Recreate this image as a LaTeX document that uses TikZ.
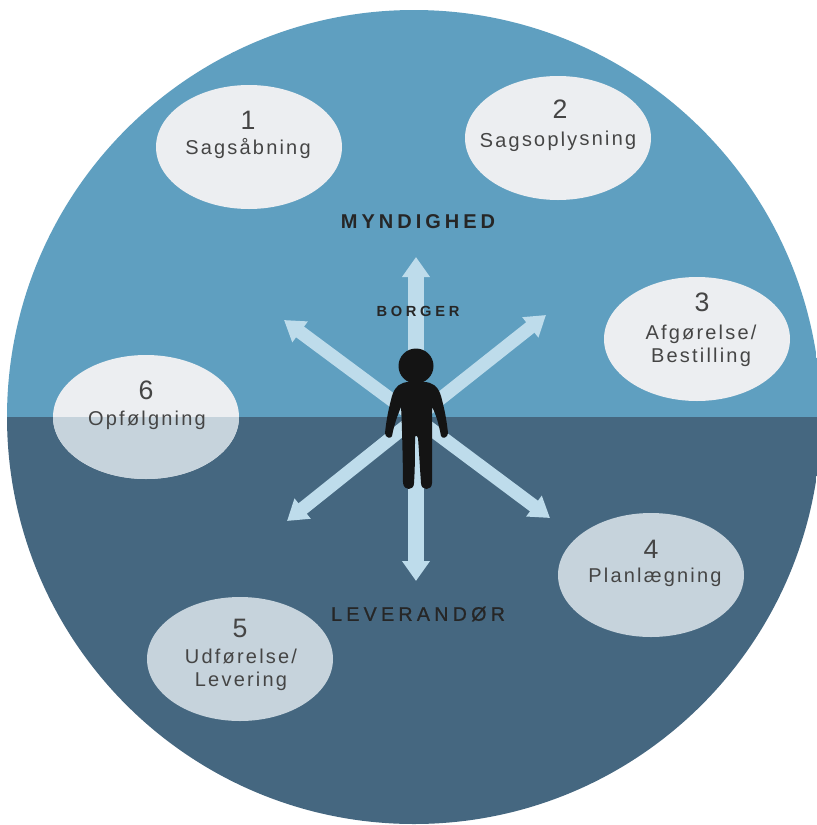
\documentclass[tikz,border=0pt]{standalone}
\usepackage{fontspec}
\setmainfont{Liberation Sans}
\newfontfamily\spaced[LetterSpace=11]{Liberation Sans}
\newfontfamily\spacedm[LetterSpace=20,BoldFont={Liberation Sans Bold}]{Liberation Sans}
\newfontfamily\spacedl[LetterSpace=22,FakeBold=0.8]{Liberation Sans}
\newfontfamily\spacedbo[LetterSpace=25,BoldFont={Liberation Sans Bold}]{Liberation Sans}
\usetikzlibrary{arrows.meta,shapes.geometric}
\definecolor{skyc}{HTML}{5F9FC0}
\definecolor{deepc}{HTML}{456780}
\definecolor{arrowc}{HTML}{BEDCEB}
\definecolor{ovtop}{HTML}{ECEEF1}
\definecolor{ovlow}{HTML}{C6D3DC}
\definecolor{inkc}{HTML}{454545}
\tikzset{
  px/.style={x=0.75pt,y=-0.75pt},
  stage/.style={ellipse,minimum width=139.5pt,minimum height=93pt,inner sep=0pt,fill=ovlow},
  stagetop/.style={stage,fill=ovtop},
  stagetext/.style={align=center,text=inkc,font=\spaced\fontsize{15}{17.5}\selectfont},
  stagenum/.style={text=inkc,font=\fontsize{20}{22}\selectfont},
  spoke/.style={draw=arrowc,line width=10pt,-{Triangle[length=15pt,width=18.5pt,fill=arrowc]}},
  vspoke/.style={draw=arrowc,line width=11.5pt,-{Triangle[length=15pt,width=20pt,fill=arrowc]}},
  role/.style={text=black!85},
}
\begin{document}
\begin{tikzpicture}[px]
\useasboundingbox (0,0) rectangle (817,825);
\begin{scope}
  \clip (414,417) circle [radius=407];
  \fill[skyc] (0,0) rectangle (817,417);
  \fill[deepc] (0,417) rectangle (817,825);
\end{scope}
% stages
\node[stagetop] (s1) at (249,147) {};
\node[stagetop] (s2) at (558,138) {};
\node[stagetop] (s3) at (697,339) {};
\node[stage] (s4) at (651,575) {};
\node[stage] (s5) at (240,659) {};
\node[stagetop] (s6) at (146,417) {};
\begin{scope}
  \clip (0,417) rectangle (817,825);
  \node[stage] at (146,417) {};
\end{scope}
\node[stagenum] at (248,120) {1};
\node[stagetext] at (248,149) {Sagsåbning};
\node[stagenum] at (560,109) {2};
\node[stagetext,rotate=1] at (558,141) {Sagsoplysning};
\node[stagenum] at (702,302) {3};
\node[stagetext] at (701,346) {Afgørelse/\\Bestilling};
\node[stagenum] at (651,549) {4};
\node[stagetext] at (655,577) {Planlægning};
\node[stagenum] at (240,628) {5};
\node[stagetext] at (241,670) {Udførelse/\\Levering};
\node[stagenum] at (146,390) {6};
\node[stagetext] at (147,420) {Opfølgning};
% spokes
\coordinate (hub) at (416,418);
\coordinate (up) at (416,257);
\coordinate (down) at (416,581);
\coordinate (ne) at (546,315);
\coordinate (nw) at (284,320);
\coordinate (sw) at (287,521);
\coordinate (se) at (550,518);
\draw[vspoke] (hub) -- (up);
\draw[vspoke] (hub) -- (down);
\draw[spoke] (hub) -- (ne);
\draw[spoke] (hub) -- (nw);
\draw[spoke] (hub) -- (sw);
\draw[spoke] (hub) -- (se);
% person
\fill[black!92] (416,366) circle [radius=17.5];
\fill[black!92] (403,383)
  .. controls (408,381) and (425,381) .. (430,383)
  .. controls (436,385) and (440,390) .. (442,400)
  .. controls (445,411) and (447,423) .. (448,433)
  .. controls (448,438) and (442,439) .. (441,436)
  .. controls (439,425) and (436,414) .. (432,407)
  .. controls (432,420) and (432,470) .. (432,483)
  .. controls (432,491) and (421,491) .. (421,483)
  .. controls (420,470) and (419,450) .. (418,438)
  .. controls (417,435) and (415,435) .. (415,438)
  .. controls (415,450) and (415,470) .. (414,483)
  .. controls (414,491) and (404,491) .. (403,483)
  .. controls (403,470) and (402,420) .. (401,407)
  .. controls (398,414) and (394,425) .. (392,436)
  .. controls (391,439) and (385,438) .. (385,433)
  .. controls (386,423) and (388,411) .. (391,400)
  .. controls (393,390) and (397,385) .. (403,383) -- cycle;
% labels
\node[role,font=\spacedm\bfseries\fontsize{15}{17}\selectfont] (myn) at (418,222) {MYNDIGHED};
\node[role,font=\spacedbo\bfseries\fontsize{11}{13}\selectfont] (bor) at (418,311) {BORGER};
\node[role,font=\spacedl\fontsize{14.7}{17}\selectfont] (lev) at (418,614) {LEVERANDØR};
\end{tikzpicture}
\end{document}
